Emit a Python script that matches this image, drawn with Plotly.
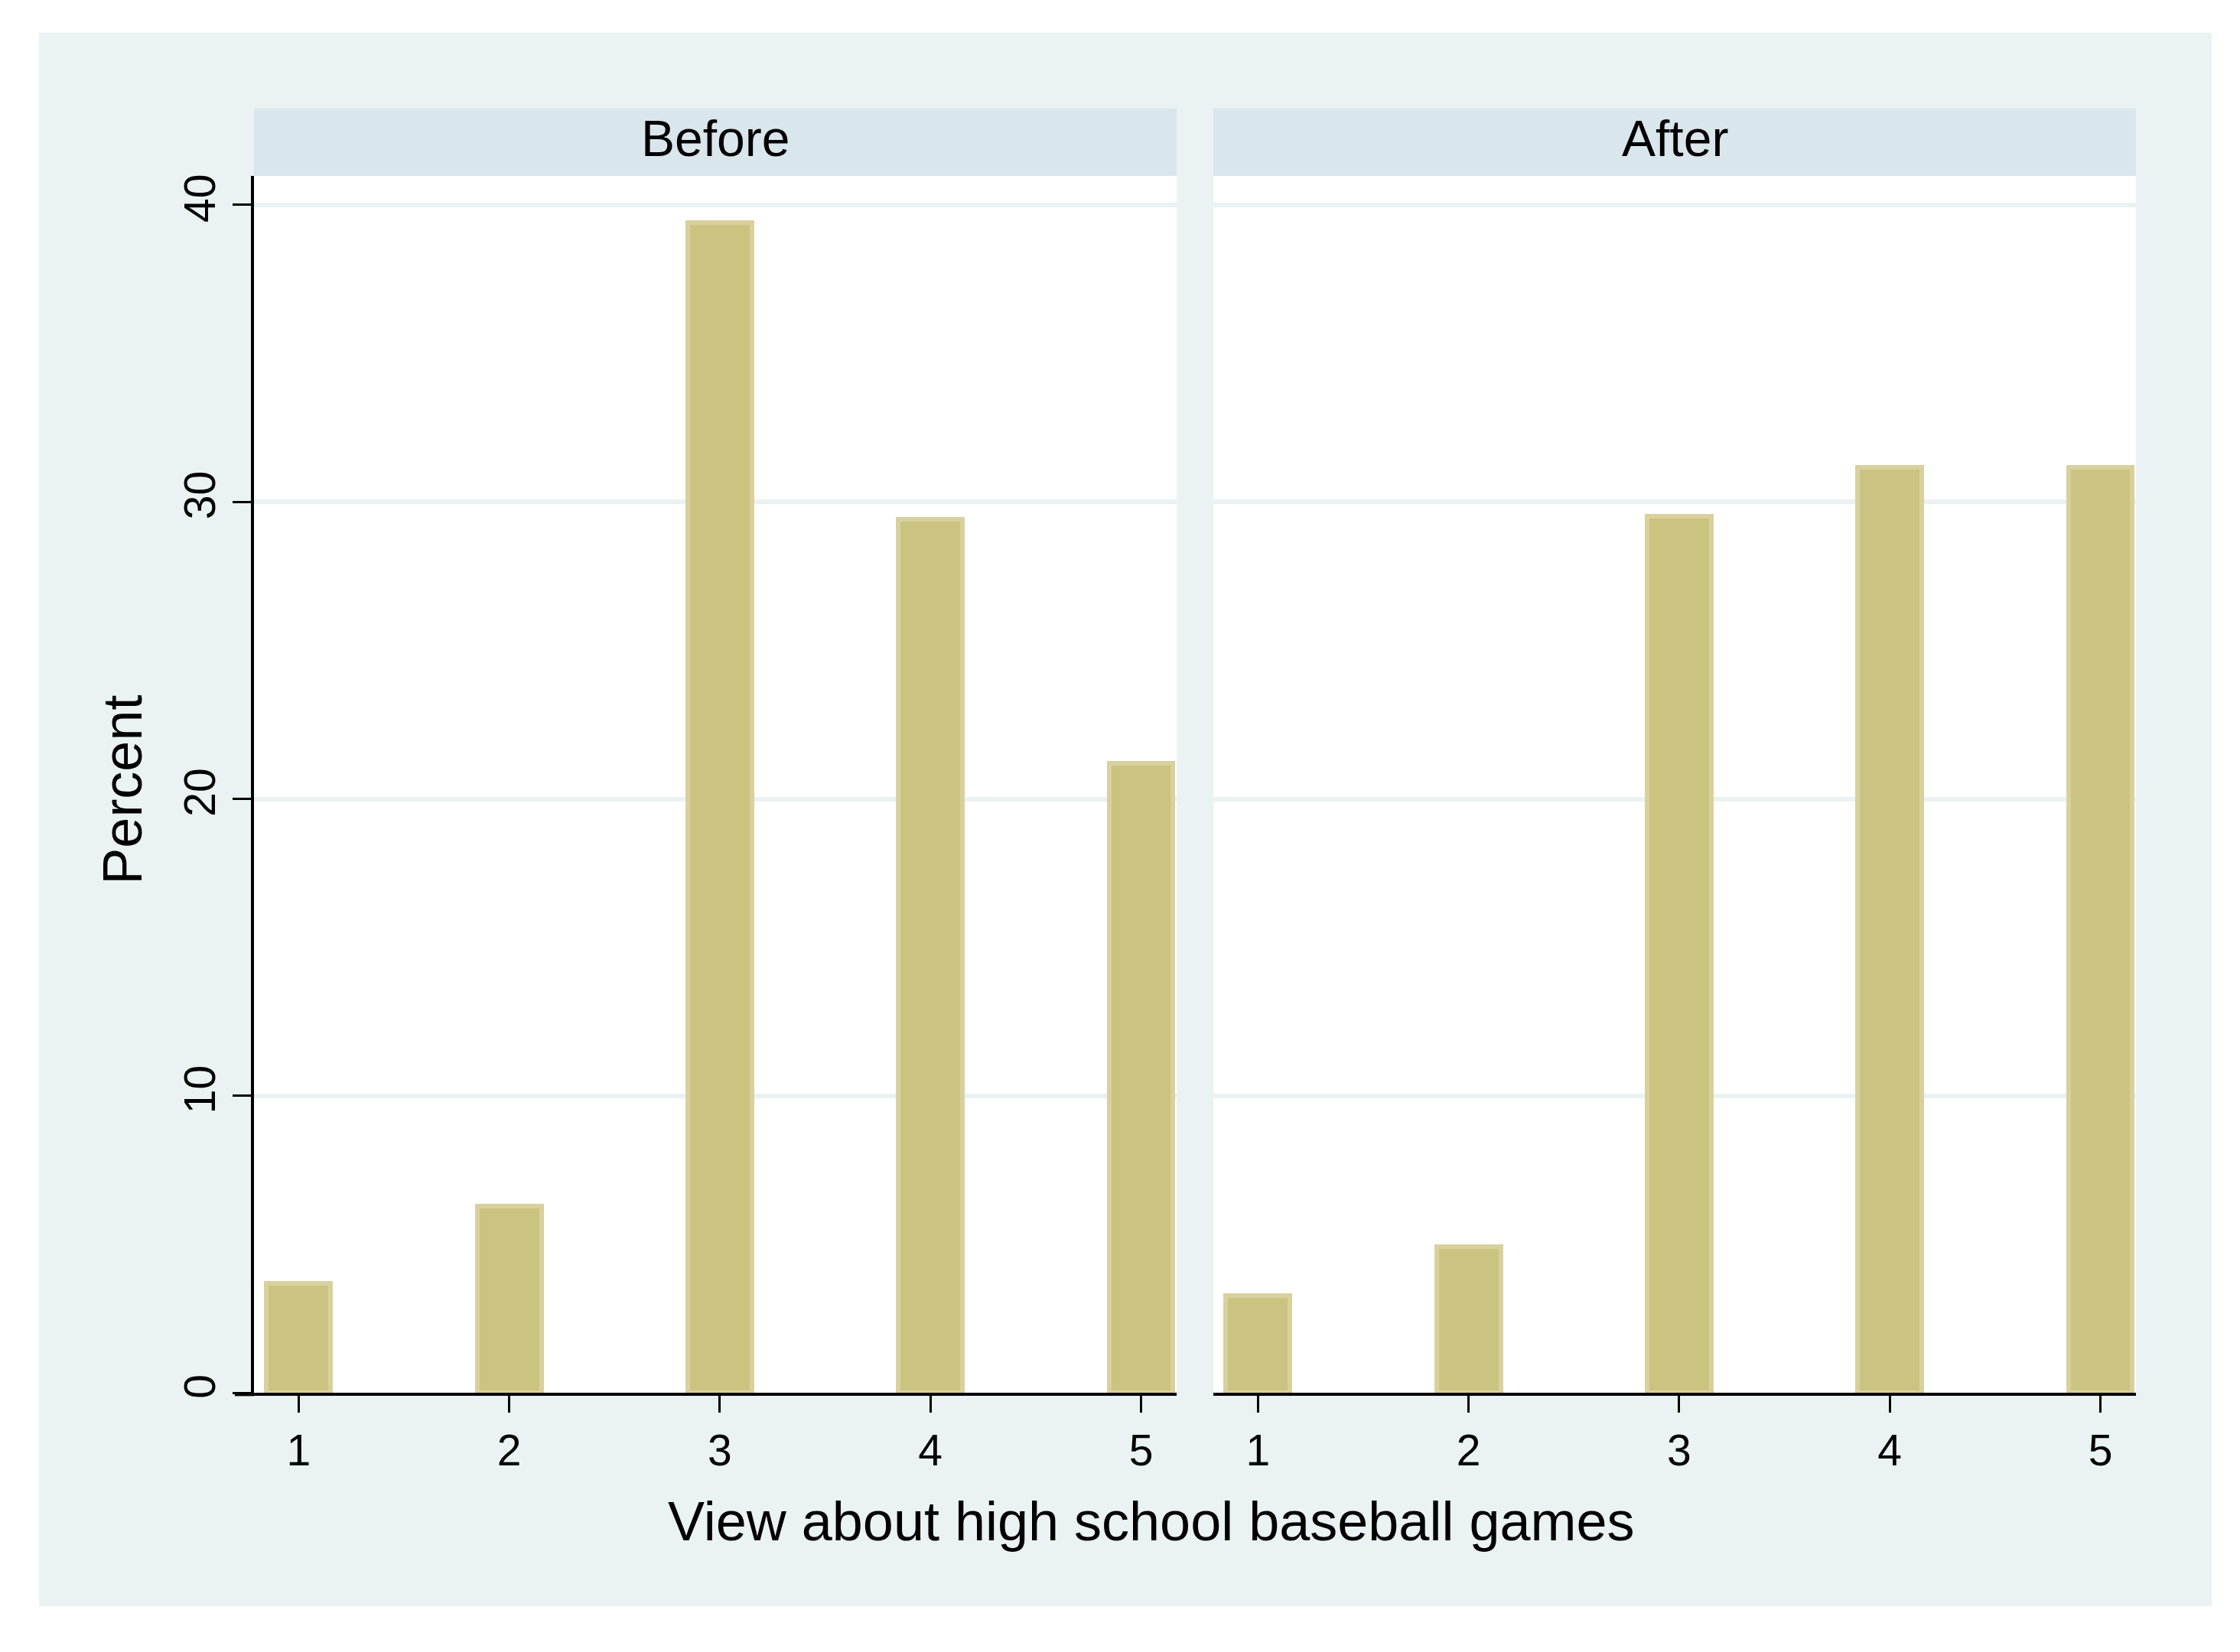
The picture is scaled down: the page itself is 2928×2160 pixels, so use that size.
import plotly.graph_objects as go

# ---- data ----
categories = [1, 2, 3, 4, 5]
before_pct = [3.7, 6.3, 39.4, 29.4, 21.2]
after_pct = [3.28, 4.92, 29.51, 31.15, 31.15]
panel_titles = ["Before", "After"]
y_ticks = [0, 10, 20, 30, 40]
x_title = "View about high school baseball games"
y_title = "Percent"

# ---- layout helpers (pixel -> paper) ----
W, H = 2928, 2160


def px(x):
    return x / W


def py(y):
    return 1 - y / H


BG = "#EAF2F3"
STRIP = "#D9E6EC"
FILL = "#CBC380"
EDGE = "#D8D19D"
FONT = "Liberation Sans, Arial, Helvetica, sans-serif"

P1 = (332, 1538)
P2 = (1586, 2792)
PTOP, PBOT = 229, 1827

fig = go.Figure()
for vals, xa, ya in [(before_pct, "x", "y"), (after_pct, "x2", "y2")]:
    fig.add_trace(go.Bar(
        x=categories, y=vals, xaxis=xa, yaxis=ya, width=0.305,
        marker=dict(color=FILL, line=dict(color=EDGE, width=6)),
        showlegend=False, hoverinfo="x+y",
    ))

xcommon = dict(
    range=[0.788, 5.169], tickvals=categories, ticks="outside", ticklen=22,
    tickwidth=3, tickcolor="black", showline=True, linecolor="black",
    linewidth=4, showgrid=False, zeroline=False,
    tickfont=dict(size=57, color="black", family=FONT), fixedrange=True,
)
ycommon = dict(
    range=[0, 40.97], tickvals=y_ticks, showgrid=True, gridcolor=BG,
    gridwidth=6, zeroline=False, fixedrange=True,
    domain=[py(PBOT), py(PTOP)],
)

fig.update_layout(
    width=W, height=H,
    margin=dict(l=0, r=0, t=0, b=0),
    paper_bgcolor="white", plot_bgcolor="white",
    font=dict(family=FONT, color="black"),
    bargap=0,
    xaxis=dict(domain=[px(P1[0]), px(P1[1])], anchor="y", **xcommon),
    xaxis2=dict(domain=[px(P2[0]), px(P2[1])], anchor="y2", **xcommon),
    yaxis=dict(anchor="x", ticks="outside", ticklen=24, tickwidth=3,
               tickcolor="black", showline=True, linecolor="black",
               linewidth=4, tickangle=-90,
               tickfont=dict(size=57, color="black", family=FONT),
               **ycommon),
    yaxis2=dict(anchor="x2", showticklabels=False, ticks="",
                showline=False, **ycommon),
)

shapes = [
    dict(type="rect", xref="paper", yref="paper", x0=px(51), x1=px(2891),
         y0=py(2107), y1=py(41), fillcolor=BG, line=dict(width=0),
         layer="below"),
]
for (x0, x1) in (P1, P2):
    shapes.append(dict(type="rect", xref="paper", yref="paper", x0=px(x0),
                       x1=px(x1), y0=py(229), y1=py(140), fillcolor=STRIP,
                       line=dict(width=0), layer="below"))
    shapes.append(dict(type="rect", xref="paper", yref="paper", x0=px(x0),
                       x1=px(x1), y0=py(PBOT), y1=py(PTOP), fillcolor="white",
                       line=dict(width=0), layer="below"))
shapes.append(dict(type="line", xref="paper", yref="paper", x0=px(307),
                   x1=px(332), y0=py(PBOT + 2), y1=py(PBOT + 2),
                   line=dict(color="black", width=4)))
fig.update_layout(shapes=shapes)

annotations = []
for title, (x0, x1) in zip(panel_titles, (P1, P2)):
    annotations.append(dict(text=title, xref="paper", yref="paper",
                            x=px((x0 + x1) / 2), y=py(180), xanchor="center",
                            yanchor="middle", showarrow=False,
                            font=dict(size=66, color="black", family=FONT)))
annotations.append(dict(text=x_title, xref="paper", yref="paper", x=px(1505),
                        y=py(1995), xanchor="center", yanchor="middle",
                        showarrow=False,
                        font=dict(size=72, color="black", family=FONT)))
annotations.append(dict(text=y_title, xref="paper", yref="paper", x=px(160),
                        y=py(1035), xanchor="center", yanchor="middle",
                        textangle=-90, showarrow=False,
                        font=dict(size=72, color="black", family=FONT)))
fig.update_layout(annotations=annotations)

fig.write_html("out.html", config={"displayModeBar": False},
               post_script="document.body.style.margin='0';")
